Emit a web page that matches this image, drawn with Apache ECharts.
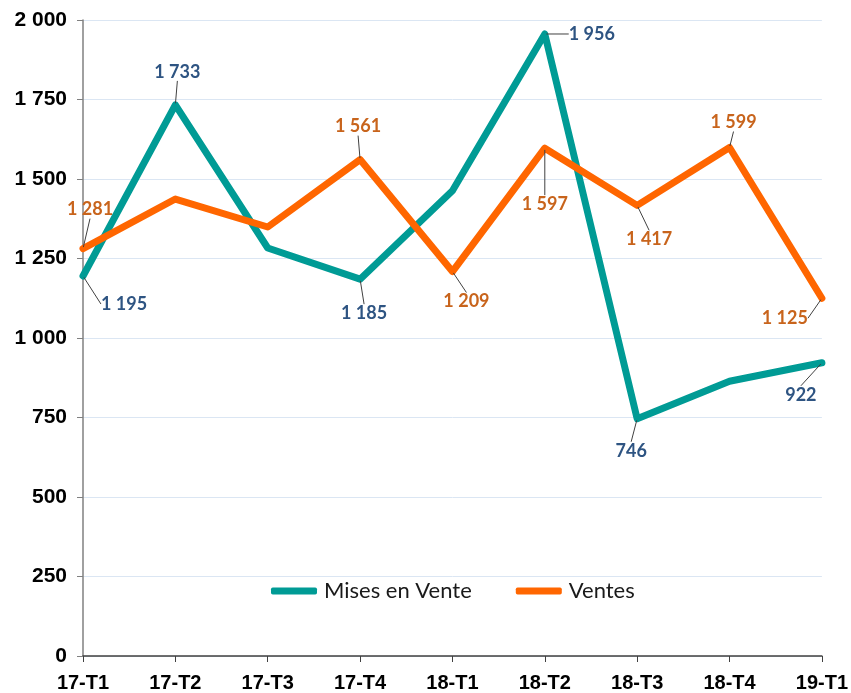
<!DOCTYPE html>
<html>
<head>
<meta charset="utf-8">
<script src="https://cdn.jsdelivr.net/npm/echarts@6/dist/echarts.min.js"></script>
<style>
  html, body { margin: 0; padding: 0; background: #ffffff; }
  #chart { width: 851px; height: 693px; }
</style>
</head>
<body>
<div id="chart"></div>
<script>
  // trimestres
  const categories = ['17-T1', '17-T2', '17-T3', '17-T4', '18-T1', '18-T2', '18-T3', '18-T4', '19-T1'];
  const misesEnVente = [1195, 1733, 1283, 1185, 1463, 1956, 746, 864, 922];
  const ventes = [1281, 1437, 1349, 1561, 1209, 1597, 1417, 1599, 1125];
  // points qui ont une étiquette
  const misesLabeled = [0, 1, 3, 5, 6, 8];
  const ventesLabeled = [0, 3, 4, 5, 6, 7, 8];
  const yTicks = [0, 250, 500, 750, 1000, 1250, 1500, 1750, 2000];

  // décalage des étiquettes (px) par série / index
  const labelOffsets = [
    {0: [41, 28], 1: [2, -33], 3: [4, 34], 5: [47, 0], 6: [-6, 32], 8: [-21, 32]},
    {0: [7, -39], 3: [-2, -33], 4: [14, 30], 5: [0, 56], 6: [12, 34], 7: [4, -25], 8: [-37, 20]}
  ];

  let fmt = function (v) {
    return String(v).replace(/\B(?=(\d{3})+(?!\d))/g, ' ');
  };

  let buildData = function (values, labeled) {
    return values.map((v, i) => ({
      value: v,
      label: {show: labeled.indexOf(i) >= 0},
      labelLine: {show: labeled.indexOf(i) >= 0}
    }));
  };

  let myChart = echarts.init(document.getElementById('chart'));
  myChart.setOption({
    animation: false,
    grid: {left: 83, right: 28, top: 20, bottom: 37},
    legend: {
      bottom: 86,
      left: 266,
      itemWidth: 46,
      itemHeight: 7,
      itemGap: 44,
      icon: 'roundRect',
      textStyle: {fontFamily: 'Lato', fontSize: 22, color: '#1a1a1a', padding: [0, 0, 0, 2]},
      data: ['Mises en Vente', 'Ventes']
    },
    xAxis: {
      type: 'category',
      boundaryGap: false,
      data: categories,
      axisLine: {lineStyle: {color: '#404040', width: 1.5}},
      axisTick: {show: true, length: 6, lineStyle: {color: '#404040'}},
      axisLabel: {
        fontFamily: 'Liberation Sans', fontWeight: 'bold', fontSize: 20,
        color: '#000', margin: 17
      }
    },
    yAxis: {
      type: 'value',
      min: 0,
      max: 2000,
      interval: 250,
      axisLine: {show: true, lineStyle: {color: '#808080', width: 1.5}},
      axisTick: {show: true, length: 6, lineStyle: {color: '#808080'}},
      axisLabel: {
        fontFamily: 'Liberation Sans', fontWeight: 'bold', fontSize: 21,
        color: '#000', margin: 16,
        formatter: function (v) { return yTicks.indexOf(v) >= 0 ? fmt(v) : ''; }
      },
      splitLine: {lineStyle: {color: '#dbe6f3', width: 1}}
    },
    series: [
      {
        name: 'Mises en Vente',
        type: 'line',
        data: buildData(misesEnVente, misesLabeled),
        color: '#009b95',
        lineStyle: {width: 7, cap: 'round', join: 'round'},
        symbol: 'circle',
        symbolSize: 3,
        label: {
          position: 'inside',
          fontFamily: 'Lato', fontWeight: 'bold', fontSize: 18,
          color: '#2e5482',
          formatter: p => fmt(p.value)
        },
        labelLine: {show: true, lineStyle: {color: '#404040', width: 1}}
      },
      {
        name: 'Ventes',
        type: 'line',
        data: buildData(ventes, ventesLabeled),
        color: '#ff6600',
        lineStyle: {width: 7, cap: 'round', join: 'round'},
        symbol: 'circle',
        symbolSize: 3,
        label: {
          position: 'inside',
          fontFamily: 'Lato', fontWeight: 'bold', fontSize: 18,
          color: '#c8641c',
          formatter: p => fmt(p.value)
        },
        labelLine: {show: true, lineStyle: {color: '#404040', width: 1}}
      }
    ],
    labelLayout: function (params) {
      let off = labelOffsets[params.seriesIndex][params.dataIndex];
      if (!off) return {};
      return {dx: off[0], dy: off[1]};
    }
  });
</script>
</body>
</html>
